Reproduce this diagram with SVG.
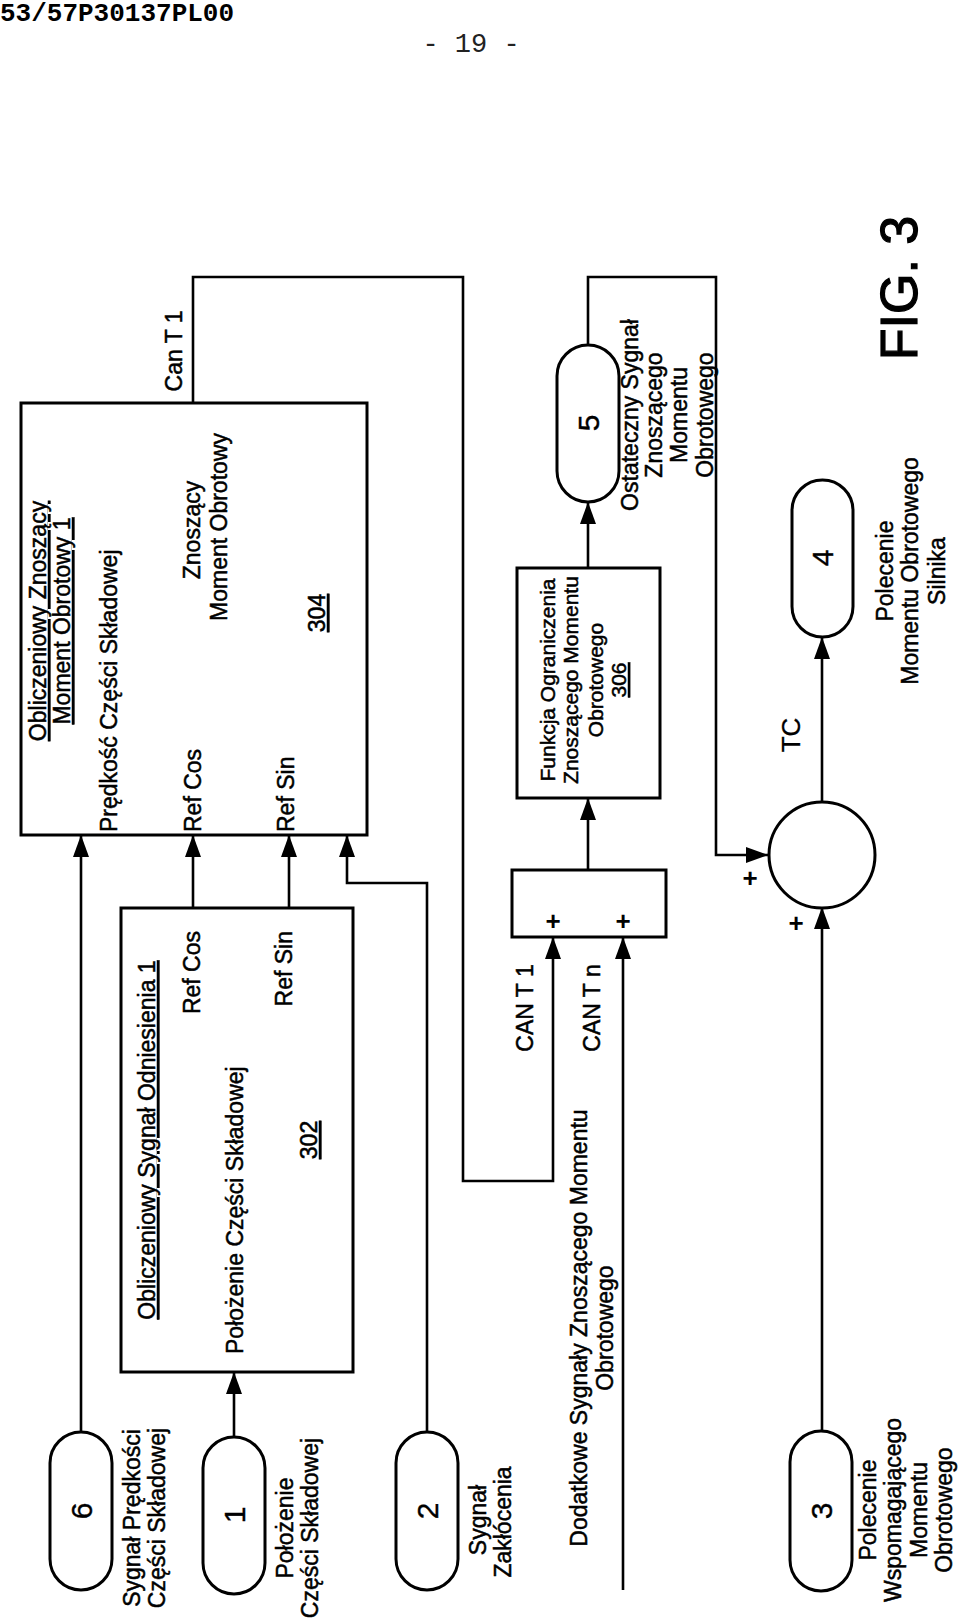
<svg xmlns="http://www.w3.org/2000/svg" width="960" height="1621" viewBox="0 0 960 1621">
<defs>
<marker id="arr" markerUnits="userSpaceOnUse" markerWidth="24" markerHeight="18" refX="22" refY="8" orient="auto">
<path d="M0,0 L22,8 L0,16 z" fill="#000"/>
</marker>
<style>
.t{font-family:"Liberation Sans",Arial,sans-serif;font-size:23px;fill:#000;stroke:#000;stroke-width:0.5}
.s{font-family:"Liberation Sans",Arial,sans-serif;font-size:21px;fill:#000;stroke:#000;stroke-width:0.5}
.n{font-family:"Liberation Sans",Arial,sans-serif;font-size:30px;fill:#000;stroke:#000;stroke-width:0.4}
.p{font-family:"Liberation Sans",Arial,sans-serif;font-size:26px;font-weight:bold;fill:#000}
.u{text-decoration:underline}
.box{fill:none;stroke:#000;stroke-width:3}
.term{fill:#fff;stroke:#000;stroke-width:3}
.ln{fill:none;stroke:#000;stroke-width:2.6}
</style>
</defs>
<rect width="960" height="1621" fill="#fff"/>
<text x="0" y="21" style="font-family:'Liberation Mono',monospace;font-size:26px;font-weight:bold">53/57P30137PL00</text>
<text x="471" y="52" text-anchor="middle" style="font-family:'Liberation Mono',monospace;font-size:27px;fill:#222">- 19 -</text>

<g id="connectors">
<path class="ln" d="M81,1432 V835" marker-end="url(#arr)"/>
<path class="ln" d="M234,1437 V1372" marker-end="url(#arr)"/>
<path class="ln" d="M193,908 V835" marker-end="url(#arr)"/>
<path class="ln" d="M289,908 V835" marker-end="url(#arr)"/>
<path class="ln" d="M427,1432 V883 H347 V835" marker-end="url(#arr)"/>
<path class="ln" d="M193,403 V277 H463 V1181 H553 V937" marker-end="url(#arr)"/>
<path class="ln" d="M623,1590 V937" marker-end="url(#arr)"/>
<path class="ln" d="M588,870 V798" marker-end="url(#arr)"/>
<path class="ln" d="M588,568 V502" marker-end="url(#arr)"/>
<path class="ln" d="M588,345 V277 H716 V855 H768" marker-end="url(#arr)"/>
<path class="ln" d="M822,1431 V907" marker-end="url(#arr)"/>
<path class="ln" d="M822,802 V637" marker-end="url(#arr)"/>
<text class="t" transform="translate(182,351) rotate(-90)" text-anchor="middle">Can T 1</text>
<text class="t" transform="translate(533,1008) rotate(-90)" text-anchor="middle">CAN T 1</text>
<text class="t" transform="translate(600,1008) rotate(-90)" text-anchor="middle">CAN T n</text>
<text style="font-family:'Liberation Sans',Arial,sans-serif;font-size:26px;stroke:#000;stroke-width:0.3" transform="translate(800,735) rotate(-90)" text-anchor="middle">TC</text>
</g>

<g id="box304">
<rect class="box" x="21" y="403" width="346" height="432"/>
<text class="t u" transform="translate(46,621) rotate(-90)" text-anchor="middle">Obliczeniowy Znoszący</text>
<text class="t u" transform="translate(70,621) rotate(-90)" text-anchor="middle">Moment Obrotowy 1</text>
<text class="t" transform="translate(117,832) rotate(-90)">Prędkość Części Składowej</text>
<text class="t" transform="translate(201,832) rotate(-90)">Ref Cos</text>
<text class="t" transform="translate(200,530) rotate(-90)" text-anchor="middle">Znoszący</text>
<text class="t" transform="translate(227,527) rotate(-90)" text-anchor="middle">Moment Obrotowy</text>
<text class="t" transform="translate(294,832) rotate(-90)">Ref Sin</text>
<text class="t u" transform="translate(325,613) rotate(-90)" text-anchor="middle">304</text>
</g>

<g id="box302">
<rect class="box" x="121" y="908" width="232" height="464"/>
<text class="t u" transform="translate(155,1140) rotate(-90)" text-anchor="middle">Obliczeniowy Sygnał Odniesienia 1</text>
<text class="t" transform="translate(200,931) rotate(-90)" text-anchor="end">Ref Cos</text>
<text class="t" transform="translate(243,1354) rotate(-90)">Położenie Części Składowej</text>
<text class="t" transform="translate(292,931) rotate(-90)" text-anchor="end">Ref Sin</text>
<text class="t u" transform="translate(317,1140) rotate(-90)" text-anchor="middle">302</text>
</g>

<g id="box306">
<rect class="box" x="517" y="568" width="143" height="230"/>
<text class="s" transform="translate(555,680) rotate(-90)" text-anchor="middle">Funkcja Ograniczenia</text>
<text class="s" transform="translate(578,680) rotate(-90)" text-anchor="middle">Znoszącego Momentu</text>
<text class="s" transform="translate(603,680) rotate(-90)" text-anchor="middle">Obrotowego</text>
<text class="s u" transform="translate(626,680) rotate(-90)" text-anchor="middle">306</text>
</g>

<g id="sumbox">
<rect class="box" x="512" y="870" width="154" height="67"/>
<text class="p" x="553" y="930" text-anchor="middle">+</text>
<text class="p" x="623" y="930" text-anchor="middle">+</text>
</g>

<g id="sum">
<circle class="term" cx="822" cy="855" r="53"/>
<text class="p" x="750" y="887" text-anchor="middle">+</text>
<text class="p" x="796" y="932" text-anchor="middle">+</text>
</g>

<g id="node6">
<rect class="term" x="50" y="1432" width="62" height="158" rx="31" ry="31"/>
<text class="n" transform="translate(92,1511) rotate(-90)" text-anchor="middle">6</text>
<text class="t" transform="translate(140,1518) rotate(-90)" text-anchor="middle">Sygnał Prędkości</text>
<text class="t" transform="translate(165,1518) rotate(-90)" text-anchor="middle">Części Składowej</text>
</g>

<g id="node1">
<rect class="term" x="203" y="1437" width="62" height="157" rx="31" ry="31"/>
<text class="n" transform="translate(245,1515) rotate(-90)" text-anchor="middle">1</text>
<text class="t" transform="translate(293,1528) rotate(-90)" text-anchor="middle">Położenie</text>
<text class="t" transform="translate(318,1528) rotate(-90)" text-anchor="middle">Części Składowej</text>
</g>

<g id="node2">
<rect class="term" x="396" y="1432" width="62" height="158" rx="31" ry="31"/>
<text class="n" transform="translate(438,1511) rotate(-90)" text-anchor="middle">2</text>
<text class="t" transform="translate(486,1520) rotate(-90)" text-anchor="middle">Sygnał</text>
<text class="t" transform="translate(511,1522) rotate(-90)" text-anchor="middle">Zakłócenia</text>
</g>

<g id="additional">
<text class="t" transform="translate(587,1328) rotate(-90)" text-anchor="middle">Dodatkowe Sygnały Znoszącego Momentu</text>
<text class="t" transform="translate(613,1328) rotate(-90)" text-anchor="middle">Obrotowego</text>
</g>

<g id="node3">
<rect class="term" x="790" y="1431" width="62" height="160" rx="31" ry="31"/>
<text class="n" transform="translate(832,1511) rotate(-90)" text-anchor="middle">3</text>
<text class="t" transform="translate(876,1510) rotate(-90)" text-anchor="middle">Polecenie</text>
<text class="t" transform="translate(901,1510) rotate(-90)" text-anchor="middle">Wspomagającego</text>
<text class="t" transform="translate(927,1510) rotate(-90)" text-anchor="middle">Momentu</text>
<text class="t" transform="translate(952,1510) rotate(-90)" text-anchor="middle">Obrotowego</text>
</g>

<g id="node4">
<rect class="term" x="792" y="480" width="61" height="157" rx="30.5" ry="30.5"/>
<text class="n" transform="translate(833,558) rotate(-90)" text-anchor="middle">4</text>
<text class="t" transform="translate(893,571) rotate(-90)" text-anchor="middle">Polecenie</text>
<text class="t" transform="translate(918,571) rotate(-90)" text-anchor="middle">Momentu Obrotowego</text>
<text class="t" transform="translate(945,571) rotate(-90)" text-anchor="middle">Silnika</text>
</g>

<g id="node5">
<rect class="term" x="557" y="345" width="62" height="157" rx="31" ry="31"/>
<text class="n" transform="translate(599,423) rotate(-90)" text-anchor="middle">5</text>
<text class="t" transform="translate(638,415) rotate(-90)" text-anchor="middle">Ostateczny Sygnał</text>
<text class="t" transform="translate(662,415) rotate(-90)" text-anchor="middle">Znoszącego</text>
<text class="t" transform="translate(687,415) rotate(-90)" text-anchor="middle">Momentu</text>
<text class="t" transform="translate(713,415) rotate(-90)" text-anchor="middle">Obrotowego</text>
</g>

<text style="font-family:'Liberation Sans',Arial,sans-serif;font-size:52px;stroke:#000;stroke-width:1.2" transform="translate(917,288) rotate(-90)" text-anchor="middle">FIG. 3</text>
</svg>
